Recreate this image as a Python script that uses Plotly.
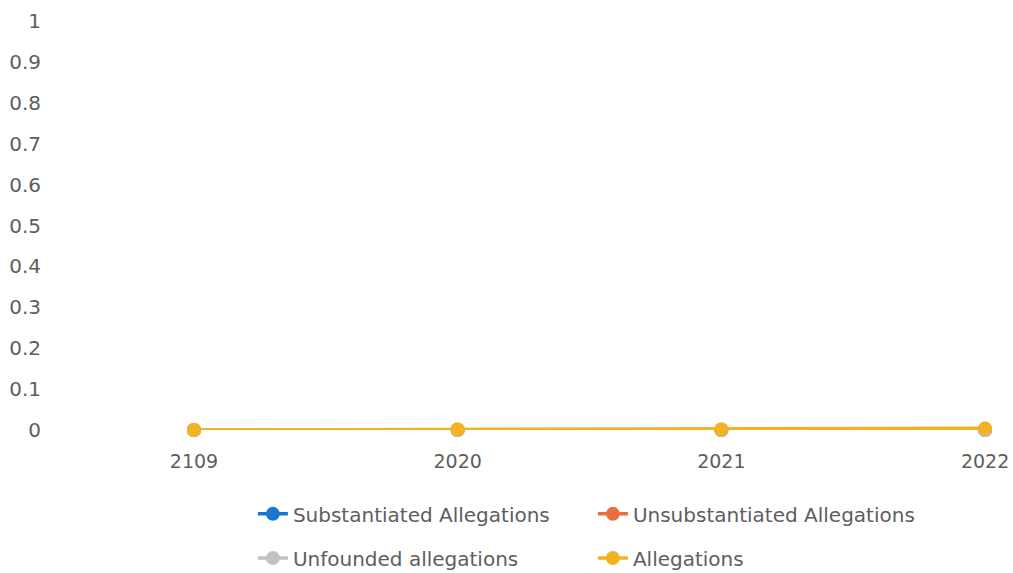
import plotly.graph_objects as go

years = ["2109", "2020", "2021", "2022"]
substantiated = [0, 0, 0, 0]
unsubstantiated = [0, 0, 0, 0]
unfounded = [0, 0, 0, 0]
allegations = [0, 0.002, 0.002, 0.004]
y_ticks = [0, 0.1, 0.2, 0.3, 0.4, 0.5, 0.6, 0.7, 0.8, 0.9, 1]
y_tick_text = ["0", "0.1", "0.2", "0.3", "0.4", "0.5", "0.6", "0.7", "0.8", "0.9", "1"]

FONT = "DejaVu Sans"
TXT = "#5e5e5e"

series = [
    ("Substantiated Allegations", substantiated, "#1778D2", "legend"),
    ("Unsubstantiated Allegations", unsubstantiated, "#E8703E", "legend"),
    ("Unfounded allegations", unfounded, "#C2C2C2", "legend2"),
    ("Allegations", allegations, "#F4B223", "legend2"),
]

fig = go.Figure()
for name, vals, col, leg in series:
    fig.add_trace(go.Scatter(
        x=years, y=vals, name=name, mode="lines+markers",
        line=dict(color=col, width=3.5),
        marker=dict(color=col, size=14),
        cliponaxis=False, legend=leg,
    ))

fig.update_layout(
    width=1013, height=573,
    margin=dict(l=60, r=0, t=21, b=143, autoexpand=False),
    paper_bgcolor="white", plot_bgcolor="white",
    font=dict(family=FONT, size=19, color=TXT),
    xaxis=dict(type="category", range=[-0.508, 3.106], showgrid=False,
               zeroline=False, showline=False, ticks="", automargin=False,
               ticklabelstandoff=18, tickfont=dict(size=19, color=TXT)),
    yaxis=dict(range=[0, 1], tickvals=y_ticks, ticktext=y_tick_text,
               showgrid=False, zeroline=False, showline=False, ticks="", automargin=False,
               ticklabelstandoff=18, tickfont=dict(size=20, color=TXT)),
    legend=dict(orientation="h", x=0.2024, xanchor="left", y=-0.205, yanchor="middle",
                entrywidth=295, font=dict(size=20, color=TXT), bgcolor="rgba(0,0,0,0)"),
    legend2=dict(orientation="h", x=0.2024, xanchor="left", y=-0.313, yanchor="middle",
                 entrywidth=295, font=dict(size=20, color=TXT), bgcolor="rgba(0,0,0,0)"),
    showlegend=True,
)

fig.write_html("out.html", config={"displayModeBar": False},
               post_script="document.body.style.margin='0px';document.body.style.overflow='hidden';")
